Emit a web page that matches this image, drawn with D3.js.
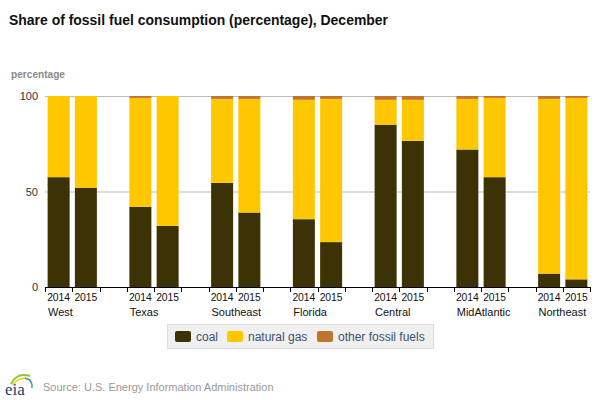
<!DOCTYPE html>
<html>
<head>
<meta charset="utf-8">
<script src="https://cdn.jsdelivr.net/npm/d3@7"></script>
<style>
  body { margin: 0; background: #fff; }
  svg { font-family: "Liberation Sans", Arial, sans-serif; }
</style>
</head>
<body>
<script>
const regions = ["West", "Texas", "Southeast", "Florida", "Central", "MidAtlantic", "Northeast"];
const years = ["2014", "2015"];
const seriesNames = ["coal", "natural gas", "other fossil fuels"];
const colors = ["#3d3106", "#ffc700", "#bf752e"];

// values per region, [2014, 2015]
const coal = [[57.5, 52], [42, 32], [54.5, 39], [35.5, 23.5], [85, 76.5], [72, 57.5], [7, 4]];
const gas = [[42.5, 48], [57, 68], [44, 59.5], [62.5, 75], [13, 21.5], [26.5, 41.5], [91.5, 95]];
const other = [[0, 0], [1, 0], [1.5, 1.5], [2, 1.5], [2, 2], [1.5, 1], [1.5, 1]];
const yTicks = [0, 50, 100];

const w = 600, h = 400;
const mLeft = 45, mRight = 590, mTop = 96, mBottom = 287;

const svg = d3.select("body").append("svg").attr("width", w).attr("height", h);

svg.append("text").attr("x", 9).attr("y", 25)
  .attr("font-size", 15).attr("font-weight", "bold").attr("fill", "#111")
  .attr("textLength", 379).attr("lengthAdjust", "spacingAndGlyphs")
  .text("Share of fossil fuel consumption (percentage), December");

svg.append("text").attr("x", 11).attr("y", 78)
  .attr("font-size", 10.5).attr("font-weight", "bold").attr("fill", "#8a8a8a")
  .attr("textLength", 54).attr("lengthAdjust", "spacingAndGlyphs")
  .text("percentage");

// slots: 2014, 2015, gap per region (no gap after last)
const slots = [];
regions.forEach((r, i) => {
  years.forEach((y) => slots.push(r + "|" + y));
  if (i < regions.length - 1) slots.push("gap" + i);
});

const x = d3.scaleBand().domain(slots).range([mLeft, mRight]).paddingInner(0);
const y = d3.scaleLinear().domain([0, 100]).range([mBottom, mTop]);

// gridlines
svg.append("g").selectAll("line").data(yTicks.filter((d) => d > 0)).join("line")
  .attr("x1", mLeft).attr("x2", mRight)
  .attr("y1", (d) => y(d) + 0.5).attr("y2", (d) => y(d) + 0.5)
  .attr("stroke", "#bbb").attr("stroke-width", 1);

svg.append("g").selectAll("text").data(yTicks).join("text")
  .attr("x", 38).attr("y", (d) => y(d) + 4)
  .attr("text-anchor", "end").attr("font-size", 11).attr("fill", "#333")
  .text((d) => d);

// stacked bars
const rows = [];
regions.forEach((r, i) => {
  years.forEach((yr, j) => {
    rows.push({ key: r + "|" + yr, coal: coal[i][j], "natural gas": gas[i][j], "other fossil fuels": other[i][j] });
  });
});
const stack = d3.stack().keys(seriesNames)(rows);
const barW = 22;

svg.append("g").selectAll("g").data(stack).join("g")
  .attr("fill", (d, i) => colors[i])
  .selectAll("rect").data((d) => d).join("rect")
  .attr("x", (d) => x(d.data.key) + (x.bandwidth() - barW) / 2)
  .attr("width", barW)
  .attr("y", (d) => y(d[1]))
  .attr("height", (d) => y(d[0]) - y(d[1]));

// x axis
const axis = svg.append("g");
axis.append("line").attr("x1", mLeft).attr("x2", mRight + 0.5)
  .attr("y1", mBottom + 0.5).attr("y2", mBottom + 0.5).attr("stroke", "#000");

const tickXs = [];
regions.forEach((r) => {
  tickXs.push(x(r + "|2014"), x(r + "|2015"), x(r + "|2015") + x.bandwidth());
});
axis.selectAll("line.tick").data(tickXs).join("line").attr("class", "tick")
  .attr("x1", (d) => Math.round(d) + 0.5).attr("x2", (d) => Math.round(d) + 0.5)
  .attr("y1", mBottom).attr("y2", mBottom + 5).attr("stroke", "#000");

axis.selectAll("text.yr").data(rows).join("text").attr("class", "yr")
  .attr("x", (d) => x(d.key) + x.bandwidth() / 2).attr("y", 301)
  .attr("text-anchor", "middle").attr("font-size", 11.5).attr("fill", "#111")
  .attr("textLength", 23).attr("lengthAdjust", "spacingAndGlyphs")
  .text((d) => d.key.split("|")[1]);

axis.selectAll("text.reg").data(regions).join("text").attr("class", "reg")
  .attr("x", (d) => x(d + "|2014") + 3).attr("y", 316)
  .attr("font-size", 11).attr("fill", "#111")
  .text((d) => d);

// legend
const lg = svg.append("g");
lg.append("rect").attr("x", 167.5).attr("y", 324.5).attr("width", 266).attr("height", 24)
  .attr("fill", "#f0f0f0").attr("stroke", "#ddd");
const legendX = [175, 227, 317];
seriesNames.forEach((s, i) => {
  lg.append("rect").attr("x", legendX[i]).attr("y", 331).attr("width", 16).attr("height", 11)
    .attr("rx", 2).attr("fill", colors[i]);
  lg.append("text").attr("x", legendX[i] + 21).attr("y", 341)
    .attr("font-size", 12).attr("fill", "#3a5273").text(s);
});

// footer logo
const logo = svg.append("g");
logo.append("path").attr("d", "M11,384 Q17,372 30,376").attr("fill", "none").attr("stroke", "#8cc63f").attr("stroke-width", 2);
logo.append("path").attr("d", "M13,385 Q20,375 31,380").attr("fill", "none").attr("stroke", "#ffc700").attr("stroke-width", 1.5);
logo.append("path").attr("d", "M25,378 Q33,380 32,388").attr("fill", "none").attr("stroke", "#2e9bd6").attr("stroke-width", 1.5);
logo.append("text").attr("x", 5).attr("y", 395).attr("font-size", 17)
  .attr("font-family", "Liberation Serif, serif").attr("fill", "#1c3f6e").text("eia");

svg.append("text").attr("x", 43).attr("y", 391)
  .attr("font-size", 11).attr("fill", "#999")
  .text("Source: U.S. Energy Information Administration");
</script>
</body>
</html>
